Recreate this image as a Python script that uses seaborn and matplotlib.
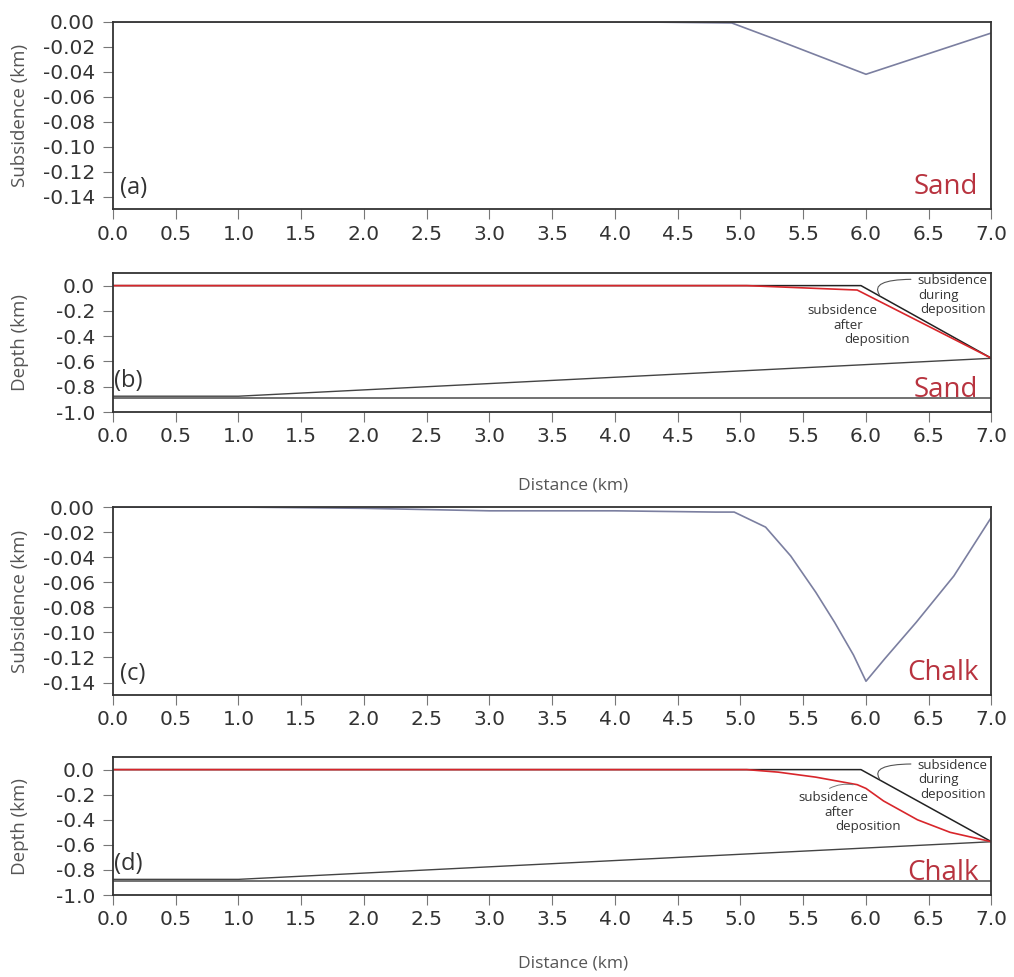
import numpy as np
import pandas as pd
import matplotlib
matplotlib.use("Agg")
import matplotlib.pyplot as plt
import seaborn as sns

# ---------------- data ----------------
# panel (a): subsidence, sand
x_sub_sand = [0.0, 1.0, 2.0, 3.0, 4.0, 4.93, 5.25, 6.0, 7.0]
sub_sand = [0.0, 0.0, 0.0, 0.0, 0.0, -0.001, -0.013, -0.042, -0.009]

# panel (c): subsidence, chalk
x_sub_chalk = [0.0, 1.0, 2.0, 3.0, 4.0, 4.8, 4.95, 5.2, 5.4, 5.6, 5.75, 5.9, 6.0,
               6.15, 6.4, 6.7, 7.0]
sub_chalk = [0.0, 0.0, -0.001, -0.003, -0.003, -0.004, -0.004, -0.016, -0.039,
             -0.068, -0.092, -0.118, -0.139, -0.121, -0.092, -0.055, -0.008]

# panels (b),(d): depth profiles
x_during = [0.0, 5.96, 7.0]
depth_during = [0.0, 0.0, -0.575]

x_after_sand = [0.0, 5.05, 5.93, 7.0]
depth_after_sand = [0.0, 0.0, -0.035, -0.575]

x_after_chalk = [0.0, 5.05, 5.3, 5.6, 5.93, 6.0, 6.14, 6.41, 6.67, 7.0]
depth_after_chalk = [0.0, 0.0, -0.02, -0.06, -0.12, -0.15, -0.25, -0.40, -0.50, -0.575]

x_base = [0.0, 1.0, 7.0]
depth_base = [-0.875, -0.875, -0.575]
x_flat = [0.0, 7.0]
depth_flat = [-0.89, -0.89]

x_ticks = [0.0, 0.5, 1.0, 1.5, 2.0, 2.5, 3.0, 3.5, 4.0, 4.5, 5.0, 5.5, 6.0, 6.5, 7.0]
sub_ticks = [0.0, -0.02, -0.04, -0.06, -0.08, -0.10, -0.12, -0.14]
depth_ticks = [0.0, -0.2, -0.4, -0.6, -0.8, -1.0]

# ---------------- style ----------------
sns.set_theme(style="white")
plt.rcParams["font.family"] = ["DejaVu Sans"]
plt.rcParams["axes.unicode_minus"] = False

SUB_COL = "#7b7fa0"
RED = "#d8262b"
LABEL_RED = "#b8333f"
SPINE = "#333333"
TXT_FONT = ["Open Sans", "DejaVu Sans"]

fig = plt.figure(figsize=(10.14, 9.77), dpi=100)
ax_a = fig.add_axes([0.1114, 0.7856, 0.8664, 0.1922])
ax_b = fig.add_axes([0.1114, 0.5783, 0.8664, 0.1423])
ax_c = fig.add_axes([0.1114, 0.2886, 0.8664, 0.1924])
ax_d = fig.add_axes([0.1114, 0.0839, 0.8664, 0.1412])


def style_axes(ax, yticks, fmt):
    ax.set_xlim(0, 7.0)
    ax.set_xticks(x_ticks)
    ax.set_xticklabels([f"{v:.1f}" for v in x_ticks])
    ax.set_yticks(yticks)
    ax.set_yticklabels([fmt.format(v) for v in yticks])
    for s in ax.spines.values():
        s.set_visible(True)
        s.set_color(SPINE)
        s.set_linewidth(1.3)
    ax.tick_params(axis="both", which="major", direction="out", length=7,
                   width=0.8, color="#777777", labelsize=14.5,
                   labelcolor="#333333", bottom=True, left=True)
    ax.tick_params(axis="x", pad=4)
    ax.tick_params(axis="y", pad=6)
    ax.grid(False)
    ax.set_facecolor("white")


def line(ax, x, y, color, lw):
    sns.lineplot(x=x, y=y, ax=ax, color=color, linewidth=lw,
                 estimator=None, sort=False, legend=False)


# (a)
line(ax_a, x_sub_sand, sub_sand, SUB_COL, 1.2)
ax_a.set_ylim(-0.15, 0.0)
style_axes(ax_a, sub_ticks, "{:.2f}")
ax_a.set_ylabel("Subsidence (km)", fontsize=13.5, color="#555555", family=TXT_FONT)

# (c)
line(ax_c, x_sub_chalk, sub_chalk, SUB_COL, 1.2)
ax_c.set_ylim(-0.15, 0.0)
style_axes(ax_c, sub_ticks, "{:.2f}")
ax_c.set_ylabel("Subsidence (km)", fontsize=13.5, color="#555555", family=TXT_FONT)

# (b) and (d)
for ax, xa, ya in [(ax_b, x_after_sand, depth_after_sand),
                   (ax_d, x_after_chalk, depth_after_chalk)]:
    line(ax, x_flat, depth_flat, "#666666", 1.3)
    line(ax, x_base, depth_base, "#444444", 1.0)
    line(ax, x_during, depth_during, "#222222", 1.1)
    line(ax, xa, ya, RED, 1.2)
    ax.set_ylim(-1.0, 0.1)
    style_axes(ax, depth_ticks, "{:.1f}")
    ax.set_ylabel("Depth (km)", fontsize=13.5, color="#555555", family=TXT_FONT)
    ax.set_xlabel("Distance (km)", fontsize=12.5, color="#555555", family=TXT_FONT)

for ax in (ax_a, ax_b, ax_c, ax_d):
    ax.yaxis.set_label_coords(-0.095, 0.5)
ax_b.xaxis.set_label_coords(0.524, -0.47)
ax_d.xaxis.set_label_coords(0.524, -0.435)

# panel letters
for ax, lab, y in [(ax_a, "(a)", 0.05), (ax_c, "(c)", 0.05)]:
    ax.text(0.008, y, lab, transform=ax.transAxes, fontsize=17,
            color="#333333", family=TXT_FONT, ha="left", va="bottom")
for ax, lab in [(ax_b, "(b)"), (ax_d, "(d)")]:
    ax.text(0.008, -0.85, lab, fontsize=17, color="#333333",
            family=TXT_FONT, ha="left", va="bottom")

# material labels
for ax, lab, y in [(ax_a, "Sand", 0.045), (ax_c, "Chalk", 0.045),
                   (ax_b, "Sand", 0.06), (ax_d, "Chalk", 0.06)]:
    ax.text(0.985, y, lab, transform=ax.transAxes, fontsize=20,
            color=LABEL_RED, family=TXT_FONT, ha="right", va="bottom")

# annotations in depth panels
ann_kw = dict(fontsize=9.5, color="#333333", family=TXT_FONT, ha="center",
              va="center")
# (b)
ax_b.text(6.69, 0.04, "subsidence", **ann_kw)
ax_b.text(6.58, -0.075, "during", **ann_kw)
ax_b.text(6.69, -0.19, "deposition", **ann_kw)
ax_b.annotate("", xy=(6.12, -0.09), xytext=(6.38, 0.05),
              arrowprops=dict(arrowstyle="-", color="#555555", lw=0.8,
                              connectionstyle="angle3,angleA=0,angleB=-50"))
ax_b.text(5.81, -0.20, "subsidence", **ann_kw)
ax_b.text(5.86, -0.315, "after", **ann_kw)
ax_b.text(6.09, -0.43, "deposition", **ann_kw)
# (d)
ax_d.text(6.69, 0.035, "subsidence", **ann_kw)
ax_d.text(6.58, -0.08, "during", **ann_kw)
ax_d.text(6.69, -0.195, "deposition", **ann_kw)
ax_d.annotate("", xy=(6.12, -0.09), xytext=(6.38, 0.045),
              arrowprops=dict(arrowstyle="-", color="#555555", lw=0.8,
                              connectionstyle="angle3,angleA=0,angleB=-50"))
ax_d.text(5.74, -0.225, "subsidence", **ann_kw)
ax_d.text(5.79, -0.34, "after", **ann_kw)
ax_d.text(6.02, -0.455, "deposition", **ann_kw)
ax_d.annotate("", xy=(5.92, -0.125), xytext=(5.69, -0.16),
              arrowprops=dict(arrowstyle="-", color="#777777", lw=0.7,
                              connectionstyle="arc3,rad=-0.2"))

fig.savefig("out.png", dpi=100, facecolor="white")
